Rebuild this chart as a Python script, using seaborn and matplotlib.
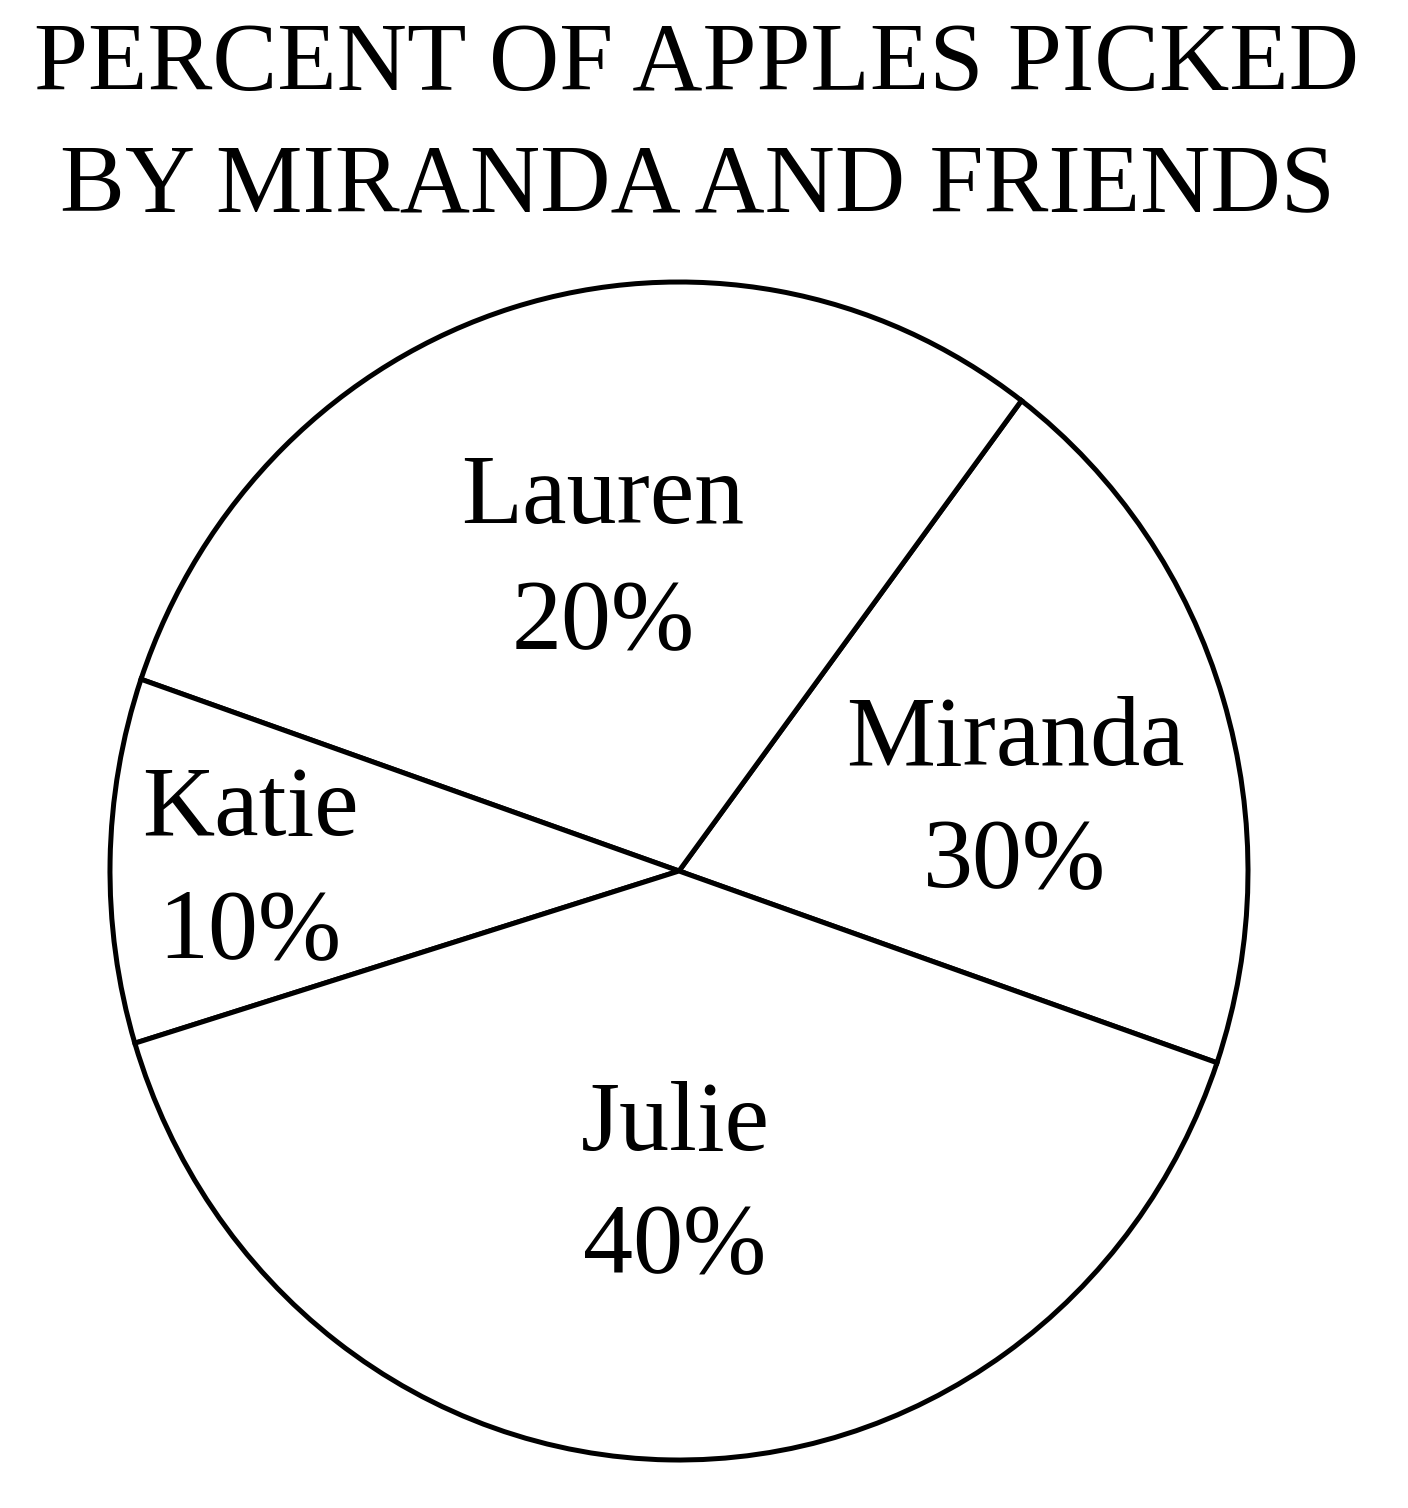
import matplotlib
matplotlib.use("Agg")
import matplotlib.pyplot as plt
import seaborn as sns

# ---- data ----
names = ["Miranda", "Lauren", "Katie", "Julie"]
percent_labels = [30, 20, 10, 40]          # printed percentages
wedge_shares = [20, 30, 10, 40]            # wedge sizes as drawn
title_lines = ["PERCENT OF APPLES PICKED", "BY MIRANDA AND FRIENDS"]

sns.set_theme(style="white")
plt.rcParams["font.family"] = ["Liberation Serif", "DejaVu Serif"]

W, H = 1408, 1508
fig = plt.figure(figsize=(W / 100, H / 100), dpi=100)
fig.patch.set_facecolor("white")

# pie axes: ellipse spans x 110..1248, y 282..1460 (pixels from top)
cx, cy, rx, ry = 679, 871, 569, 589
ax = fig.add_axes([(cx - rx) / W, 1 - (cy + ry) / H, 2 * rx / W, 2 * ry / H])

ax.pie(wedge_shares, startangle=-19, counterclock=True,
       colors=["white"] * len(wedge_shares),
       wedgeprops=dict(edgecolor="black", linewidth=3.6),
       radius=1.0)
ax.set_aspect("auto")
ax.set_xlim(-1, 1)
ax.set_ylim(-1, 1)
ax.axis("off")

def px2data(px, py):
    return (px - cx) / rx, (cy - py) / ry

# label layout: (center x, name baseline, percent baseline) in pixels
label_pos = {
    "Miranda": (1015, 765, 887),
    "Lauren": (603, 523, 648),
    "Katie": (250, 835, 957),
    "Julie": (675, 1150, 1272),
}
for name, pct in zip(names, percent_labels):
    x, yb1, yb2 = label_pos[name]
    dx, dy1 = px2data(x, yb1)
    _, dy2 = px2data(x, yb2)
    ax.text(dx, dy1, name, ha="center", va="baseline", fontsize=72, color="black")
    ax.text(dx, dy2, f"{pct}%", ha="center", va="baseline", fontsize=72, color="black")

# title
for line, base in zip(title_lines, [90, 212]):
    fig.text(697 / W, 1 - base / H, line, ha="center", va="baseline",
             fontsize=70, color="black")

fig.savefig("out.png", dpi=100, facecolor="white")
